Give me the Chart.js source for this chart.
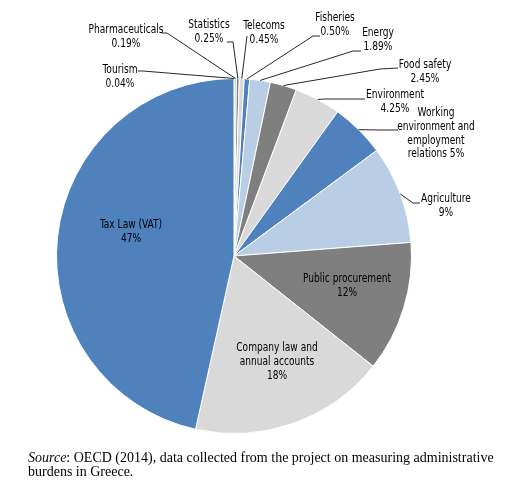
<!DOCTYPE html>
<html>
<head>
<meta charset="utf-8">
<script src="https://cdn.jsdelivr.net/npm/chart.js@4.4.1/dist/chart.umd.min.js"></script>
<style>
  html, body { margin: 0; padding: 0; background: #fff; }
  #wrap { position: relative; width: 508px; height: 490px; overflow: hidden; }
  #pie { position: absolute; left: 0; top: 0; }
  #source {
    position: absolute; left: 28px; top: 451px;
    font-family: 'Liberation Serif', 'Times New Roman', serif;
    font-size: 14px; line-height: 13.5px; color: #000; white-space: nowrap;
  }
</style>
</head>
<body>
<div id="wrap">
  <canvas id="pie" width="508" height="490"></canvas>
  <div id="source"><i>Source</i>: OECD (2014), data collected from the project on measuring administrative<br>burdens in Greece.</div>
</div>
<script>
// share of administrative burden by area, clockwise from 12 o'clock
const categories = [
  'Tourism', 'Pharmaceuticals', 'Statistics', 'Telecoms', 'Fisheries', 'Energy',
  'Food safety', 'Environment', 'Working\nenvironment and\nemployment\nrelations',
  'Agriculture', 'Public procurement', 'Company law and\nannual accounts', 'Tax Law (VAT)'
];
const shares = [0.04, 0.19, 0.25, 0.45, 0.50, 1.89, 2.45, 4.25, 5, 9, 12, 18, 47];
const colors = [
  '#4f81bd', '#b9cde5', '#7f7f7f', '#d9d9d9', '#4f81bd', '#b9cde5',
  '#7f7f7f', '#d9d9d9', '#4f81bd', '#b9cde5', '#7f7f7f', '#d9d9d9', '#4f81bd'
];

// where each label goes: x,y = centre of first text line; elbow/end = leader line
const labelLayout = [
  { x: 120, y: 70, elbow: [143, 71], end: [138, 71] },
  { x: 126, y: 30, elbow: [167, 33], end: [162, 33] },
  { x: 209, y: 25, elbow: [233, 42], end: [227, 42] },
  { x: 264, y: 26, elbow: [247, 36], end: [247, 36] },
  { x: 335, y: 18, elbow: [313, 36], end: [320, 36] },
  { x: 378, y: 33, elbow: [353, 51], end: [361, 51] },
  { x: 425, y: 65, elbow: [380, 69], end: [398, 68] },
  { x: 395, y: 95, elbow: [325, 99], end: [365, 99] },
  { x: 436, y: 113, elbow: [380, 130], end: [398, 130], sameLine: true },
  { x: 446, y: 199, elbow: [413, 203], end: [420, 203] },
  { x: 347, y: 279 },
  { x: 277, y: 348 },
  { x: 131, y: 225 }
];

const fmtPct = v => (v >= 5 ? String(v) : v.toFixed(2)) + '%';

const pieLabels = {
  id: 'pieLabels',
  afterDatasetsDraw(chart) {
    const ctx = chart.ctx;
    const arcs = chart.getDatasetMeta(0).data;
    ctx.save();
    ctx.font = '12px "Liberation Sans Narrow", "Arial Narrow", "DejaVu Sans Condensed", sans-serif';
    ctx.fillStyle = '#000';
    ctx.textAlign = 'center';
    ctx.textBaseline = 'middle';
    arcs.forEach((arc, i) => {
      const lay = labelLayout[i];
      if (lay.elbow) {
        const mid = (arc.startAngle + arc.endAngle) / 2;
        ctx.beginPath();
        ctx.moveTo(arc.x + Math.cos(mid) * arc.outerRadius, arc.y + Math.sin(mid) * arc.outerRadius);
        ctx.lineTo(lay.elbow[0], lay.elbow[1]);
        ctx.lineTo(lay.end[0], lay.end[1]);
        ctx.strokeStyle = '#262626';
        ctx.lineWidth = 1;
        ctx.stroke();
      }
      const lines = categories[i].split('\n');
      if (lay.sameLine) lines[lines.length - 1] += ' ' + fmtPct(shares[i]);
      else lines.push(fmtPct(shares[i]));
      lines.forEach((t, k) => {
        // squeeze horizontally, the original uses a narrow face
        ctx.save();
        ctx.translate(lay.x, lay.y + k * 13.7);
        ctx.scale(0.84, 1);
        ctx.fillText(t, 0, 0);
        ctx.restore();
      });
    });
    ctx.restore();
  }
};

new Chart(document.getElementById('pie'), {
  type: 'pie',
  data: {
    labels: categories,
    datasets: [{ data: shares, backgroundColor: colors, borderColor: '#fff', borderWidth: 1 }]
  },
  options: {
    responsive: false,
    animation: false,
    layout: { padding: { left: 56, top: 78, right: 96, bottom: 56 } },
    plugins: { legend: { display: false }, tooltip: { enabled: false } }
  },
  plugins: [pieLabels]
});
</script>
</body>
</html>
